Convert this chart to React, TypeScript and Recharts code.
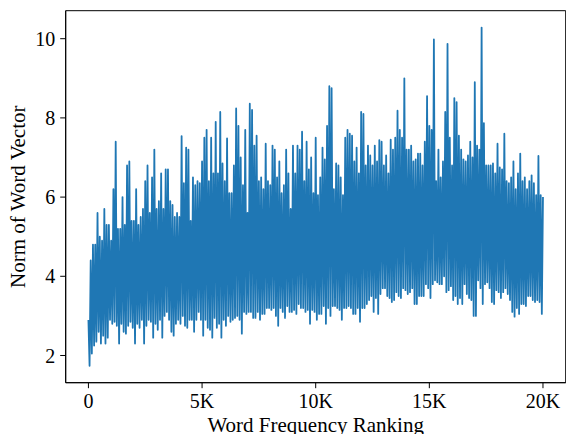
import { LineChart, Line, XAxis, YAxis, ReferenceArea } from "recharts";

const peaks = [
  2.9, 4.4, 4.8, 4.8, 5.6, 5.0, 4.9, 5.7, 5.3, 5.3,
  4.9, 6.2, 7.4, 5.2, 5.2, 6.0, 5.3, 6.8, 6.9, 5.4,
  5.4, 6.2, 5.3, 5.5, 5.7, 6.4, 6.8, 5.6, 6.5, 7.2,
  5.7, 5.9, 6.6, 5.7, 6.7, 6.7, 5.9, 5.8, 5.5, 5.6,
  5.5, 7.54, 6.35, 7.25, 7.2, 5.4, 6.5, 6.3, 6.4, 6.35,
  6.9, 7.5, 7.7, 6.4, 7.5, 6.6, 7.9, 6.6, 8.15, 6.85,
  6.4, 7.48, 6.1, 6.1, 6.8, 8.24, 7.8, 7.0, 6.3, 7.7,
  5.6, 8.36, 8.2, 7.3, 7.55, 6.4, 6.5, 6.2, 7.35, 6.4,
  6.3, 7.3, 7.2, 6.5, 6.9, 6.1, 6.3, 7.2, 6.6, 5.7,
  7.3, 6.6, 7.3, 7.2, 7.65, 6.4, 7.4, 6.7, 7.0, 6.1,
  7.5, 6.05, 6.5, 7.25, 6.95, 7.8, 8.8, 8.75, 6.2, 6.85,
  6.8, 6.5, 6.05, 7.5, 7.7, 7.6, 7.55, 6.9, 7.25, 6.6,
  8.15, 8.1, 6.8, 7.3, 7.05, 6.8, 7.3, 6.9, 7.44, 7.4,
  6.8, 7.05, 6.6, 7.45, 7.2, 7.5, 8.18, 7.7, 7.5, 9.0,
  7.2, 7.2, 7.3, 6.9, 6.95, 7.1, 7.1, 6.8, 7.4, 8.55,
  7.8, 7.7, 9.98, 6.4, 7.2, 6.5, 6.9, 8.15, 9.87, 7.5,
  6.8, 8.5, 8.4, 7.55, 7.2, 6.95, 6.9, 7.05, 7.4, 7.0,
  8.9, 7.3, 7.2, 10.28, 7.87, 6.8, 6.8, 6.8, 6.85, 6.6,
  7.35, 6.75, 6.7, 7.6, 6.4, 6.35, 6.5, 6.9, 6.2, 6.6,
  7.1, 6.4, 6.5, 6.2, 6.4, 6.55, 6.35, 6.05, 7.04, 6.05,
  6.0,
];

// local minima, halfway between the peaks
const troughs = [
  1.74, 2.05, 2.25, 2.35, 2.6, 2.3, 2.5, 2.3, 2.45, 2.9,
  2.8, 2.85, 2.75, 2.3, 2.8, 2.6, 2.55, 2.75, 2.85, 2.7,
  2.3, 2.8, 2.7, 2.9, 2.3, 2.75, 2.9, 2.85, 2.45, 2.8,
  2.65, 2.9, 2.45, 3.0, 3.1, 2.9, 2.6, 2.5, 2.8, 2.9,
  2.8, 3.0, 2.75, 2.7, 2.9, 2.9, 2.6, 2.9, 3.1, 2.9,
  2.5, 2.9, 2.7, 2.65, 2.45, 2.95, 2.7, 2.8, 2.45, 2.9,
  2.75, 3.0, 2.85, 2.9, 2.95, 3.0, 2.9, 2.55, 3.1, 3.05,
  3.1, 3.1, 2.95, 2.95, 3.1, 2.9, 3.05, 3.05, 3.2, 3.2,
  3.15, 3.2, 3.0, 2.75, 3.2, 3.1, 2.95, 3.25, 3.1, 3.1,
  3.15, 3.05, 3.3, 3.2, 3.2, 3.1, 3.15, 2.8, 3.15, 3.1,
  2.9, 3.05, 3.05, 3.25, 2.8, 3.2, 3.0, 3.25, 3.25, 3.2,
  3.15, 2.9, 3.2, 3.2, 3.25, 3.2, 3.05, 3.05, 3.2, 2.85,
  3.2, 3.2, 3.3, 3.4, 3.5, 3.1, 3.45, 3.05, 3.55, 3.7,
  3.7, 3.5, 3.45, 3.35, 3.4, 3.6, 3.5, 3.45, 3.7, 3.65,
  3.55, 3.6, 3.7, 3.3, 3.3, 3.5, 3.5, 3.5, 3.8, 3.7,
  3.45, 3.8, 3.9, 3.85, 3.8, 3.8, 4.0, 3.6, 3.65, 3.75,
  3.4, 3.5, 3.3, 3.45, 3.3, 3.8, 3.55, 3.45, 3.4, 3.0,
  3.0, 3.9, 3.7, 3.3, 3.8, 3.85, 3.7, 3.35, 3.3, 3.65,
  3.6, 3.45, 3.6, 3.7, 3.55, 3.4, 3.1, 2.98, 3.2, 3.05,
  3.3, 3.3, 3.25, 3.5, 3.5, 3.4, 3.35, 3.4, 3.35, 3.05,
];

const xTicks = [0, 5000, 10000, 15000, 20000];
const yTicks = [2, 4, 6, 8, 10];

const data: { rank: number; norm: number }[] = [];
peaks.forEach((p, i) => {
  data.push({ rank: i * 100, norm: p });
  if (i < troughs.length) data.push({ rank: i * 100 + 50, norm: troughs[i] });
});

const font = '"Liberation Serif", "Times New Roman", serif';
const fmtK = (v: number) => (v === 0 ? "0" : `${v / 1000}K`);

const YLabel = () => (
  <text
    x={25.5}
    y={196.7}
    transform="rotate(-90 25.5 196.7)"
    textAnchor="middle"
    fontFamily={font}
    fontSize={21}
    fill="#000"
  >
    Norm of Word Vector
  </text>
);

export default function App() {
  return (
    <div style={{ position: "absolute", left: 0, top: 0, background: "#fff" }}>
      <LineChart
        width={566}
        height={434}
        data={data}
        margin={{ top: 10.7, right: 0.3, left: 0, bottom: 0 }}
      >
        <XAxis
          dataKey="rank"
          type="number"
          domain={[-1000, 21000]}
          ticks={xTicks}
          tickFormatter={fmtK}
          allowDataOverflow
          height={51.3}
          tickSize={5.5}
          tickMargin={6}
          axisLine={{ stroke: "#000" }}
          tickLine={{ stroke: "#000" }}
          tick={{ fill: "#000", fontFamily: font, fontSize: 20 }}
          label={{
            value: "Word Frequency Ranking",
            position: "insideBottom",
            offset: 2,
            fill: "#000",
            fontFamily: font,
            fontSize: 21,
          }}
        />
        <YAxis
          type="number"
          domain={[1.313, 10.707]}
          ticks={yTicks}
          allowDataOverflow
          width={65.7}
          tickSize={5.5}
          tickMargin={5}
          axisLine={{ stroke: "#000" }}
          tickLine={{ stroke: "#000" }}
          tick={{ fill: "#000", fontFamily: font, fontSize: 20 }}
          label={<YLabel />}
        />
        <ReferenceArea
          x1={-1000}
          x2={21000}
          y1={1.313}
          y2={10.707}
          fill="none"
          stroke="#000"
          strokeWidth={1}
          ifOverflow="visible"
        />
        <Line
          type="linear"
          dataKey="norm"
          stroke="#1f77b4"
          strokeWidth={1.8}
          strokeLinejoin="round"
          dot={false}
          activeDot={false}
          isAnimationActive={false}
        />
      </LineChart>
    </div>
  );
}
